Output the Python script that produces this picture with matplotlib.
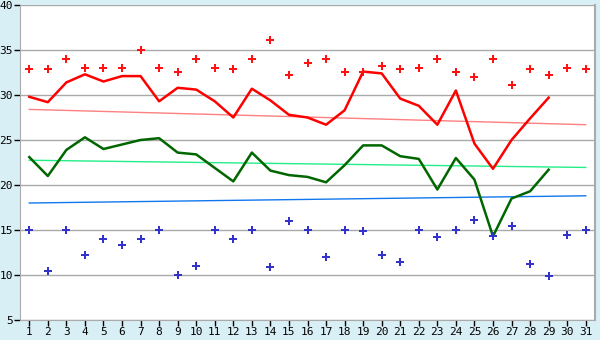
import matplotlib
matplotlib.use("Agg")
import matplotlib.pyplot as plt
import numpy as np

days = list(range(1, 32))
line_days = list(range(1, 30))

record_high = [32.9, 32.9, 34.0, 33.0, 33.0, 33.0, 35.0, 33.0, 32.6, 34.0,
               33.0, 32.9, 34.0, 36.1, 32.2, 33.6, 34.0, 32.6, 32.6, 33.2,
               32.9, 33.0, 34.0, 32.6, 32.0, 34.0, 31.1, 32.9, 32.2, 33.0, 32.9]
record_low = [15.0, 10.5, 15.0, 12.2, 14.0, 13.3, 14.0, 15.0, 10.0, 11.0,
              15.0, 14.0, 15.0, 10.9, 16.0, 15.0, 12.0, 15.0, 14.9, 12.2,
              11.4, 15.0, 14.2, 15.0, 16.1, 14.3, 15.4, 11.2, 9.9, 14.5, 15.0]
high_temp = [29.8, 29.2, 31.4, 32.3, 31.5, 32.1, 32.1, 29.3, 30.8, 30.6,
             29.3, 27.5, 30.7, 29.4, 27.8, 27.5, 26.7, 28.3, 32.6, 32.4,
             29.6, 28.8, 26.7, 30.5, 24.6, 21.8, 25.0, 27.4, 29.7]
low_temp = [23.1, 21.0, 23.9, 25.3, 24.0, 24.5, 25.0, 25.2, 23.6, 23.4,
            21.9, 20.4, 23.6, 21.6, 21.1, 20.9, 20.3, 22.2, 24.4, 24.4,
            23.2, 22.9, 19.5, 23.0, 20.6, 14.3, 18.5, 19.3, 21.7]
trend_ends_days = [1, 31]
trend_high = [28.4, 26.7]
trend_mid = [22.75, 21.95]
trend_low = [18.0, 18.8]

bg = "#d9eff6"
fig = plt.figure(figsize=(6, 3.4), dpi=100, facecolor=bg)
ax = fig.add_axes([20/600, 20/340, 575/600, 315/340])
ax.set_facecolor("white")

ax.set_xlim(0.5, 31.5)
ax.set_ylim(5, 40)
ax.set_yticks(range(5, 41, 5))
ax.set_xticks(days)
ax.grid(axis="y", color="#aaaaaa", linewidth=1)
ax.set_axisbelow(True)

ax.plot(trend_ends_days, trend_high, color="#ff8080", linewidth=1)
ax.plot(trend_ends_days, trend_mid, color="#22ee88", linewidth=1)
ax.plot(trend_ends_days, trend_low, color="#1177ee", linewidth=1)

ax.plot(line_days, high_temp, color="#ff0000", linewidth=1.8)
ax.plot(line_days, low_temp, color="#006600", linewidth=1.8)

ax.plot(days, record_high, linestyle="none", marker="P", markersize=5.2,
        color="#ff1111", markeredgewidth=0)
ax.plot(days, record_low, linestyle="none", marker="P", markersize=5.2,
        color="#3333cc", markeredgewidth=0)

for s in ["left", "bottom", "right", "top"]:
    ax.spines[s].set_color("#aaaaaa")
ax.spines["right"].set_linewidth(1.5)
ax.spines["top"].set_visible(False)
ax.tick_params(axis="both", colors="black", labelsize=8, length=4, width=1, pad=1)
for lab in ax.get_xticklabels() + ax.get_yticklabels():
    lab.set_family("DejaVu Sans Mono")

fig.savefig("out.png", dpi=100, facecolor=bg)
